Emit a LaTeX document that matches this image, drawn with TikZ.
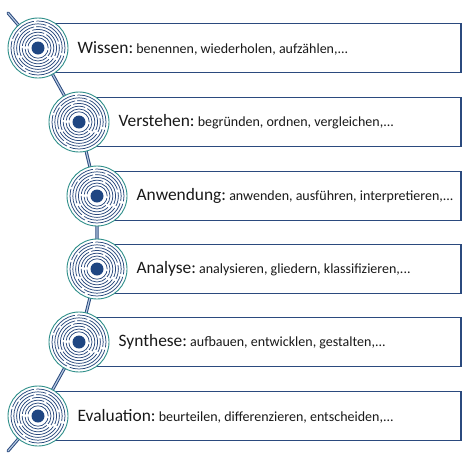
\documentclass[tikz,border=0pt]{standalone}
\usepackage{fontspec}
\setmainfont{Carlito}
\definecolor{boxblue}{HTML}{2B4A7E}
\definecolor{dotblue}{HTML}{1F4682}
\definecolor{ringteal}{HTML}{2F8F8A}
\definecolor{linkfill}{HTML}{B9CCE4}
\newcommand{\lvl}[2]{{\fontsize{17.4}{20}\selectfont #1:}{\fontsize{14}{16}\selectfont\ #2}}
\tikzset{
  stagebox/.style={draw=boxblue,line width=1.3pt,fill=white,minimum height=49pt,inner sep=0pt},
  target/.style={circle,draw=ringteal,line width=0.9pt,fill=white,minimum size=60pt,inner sep=0pt},
  ring/.style={draw=boxblue,line width=0.75pt,dash pattern=on 44pt off 2.5pt on 29pt off 2pt on 37pt off 3pt},
  link/.style={draw=boxblue,line width=1pt,double=linkfill,double distance=1.1pt,line cap=round},
}
\begin{document}
\begin{tikzpicture}[x=1pt,y=-1pt]
  \useasboundingbox (0,0) rectangle (468,464);

  % boxes
  \begin{scope}[every node/.style={stagebox}]
    \node (b1) at ({(38+461)/2},48)  [minimum width=423pt] {};
    \node (b2) at ({(79+461)/2},122) [minimum width=382pt] {};
    \node (b3) at ({(97+461)/2},196) [minimum width=364pt] {};
    \node (b4) at ({(97+461)/2},269) [minimum width=364pt] {};
    \node (b5) at ({(79+461)/2},342) [minimum width=382pt] {};
    \node (b6) at ({(38+461)/2},416) [minimum width=423pt] {};
  \end{scope}

  % the path through all stages
  \coordinate (top) at (8,13);
  \coordinate (bottom) at (8,451);
  \path[link] (top) -- (38,48) -- (79,122) -- (97,196) -- (97,269) -- (79,342) -- (38,416) -- (bottom);

  % targets
  \begin{scope}[every node/.style={target}]
    \node (c1) at (38,48)  {};
    \node (c2) at (79,122) {};
    \node (c3) at (97,196) {};
    \node (c4) at (97,269) {};
    \node (c5) at (79,342) {};
    \node (c6) at (38,416) {};
  \end{scope}

  \foreach \c in {c1,c2,c3,c4,c5,c6} {
    \foreach \r/\ph in {27/0,24.2/17,21.4/40,18.6/9,15.8/28,13/5,10.2/14}
      \draw[ring,dash phase=\ph pt] (\c.center) circle (\r pt);
    \fill[dotblue] (\c.center) circle (6.5pt);
  }

  % labels
  \begin{scope}[every node/.style={anchor=west,inner sep=0pt,text=black!90}]
    \node (t1) at ([xshift=9pt]c1.east) {\lvl{Wissen}{benennen, wiederholen, aufzählen,...}};
    \node (t2) at ([xshift=9pt]c2.east) {\lvl{Verstehen}{begründen, ordnen, vergleichen,...}};
    \node (t3) at ([xshift=9pt]c3.east) {\lvl{Anwendung}{anwenden, ausführen, interpretieren,...}};
    \node (t4) at ([xshift=9pt]c4.east) {\lvl{Analyse}{analysieren, gliedern, klassifizieren,...}};
    \node (t5) at ([xshift=9pt]c5.east) {\lvl{Synthese}{aufbauen, entwicklen, gestalten,...}};
    \node (t6) at ([xshift=9pt]c6.east) {\lvl{Evaluation}{beurteilen, differenzieren, entscheiden,...}};
  \end{scope}

\end{tikzpicture}
\end{document}
